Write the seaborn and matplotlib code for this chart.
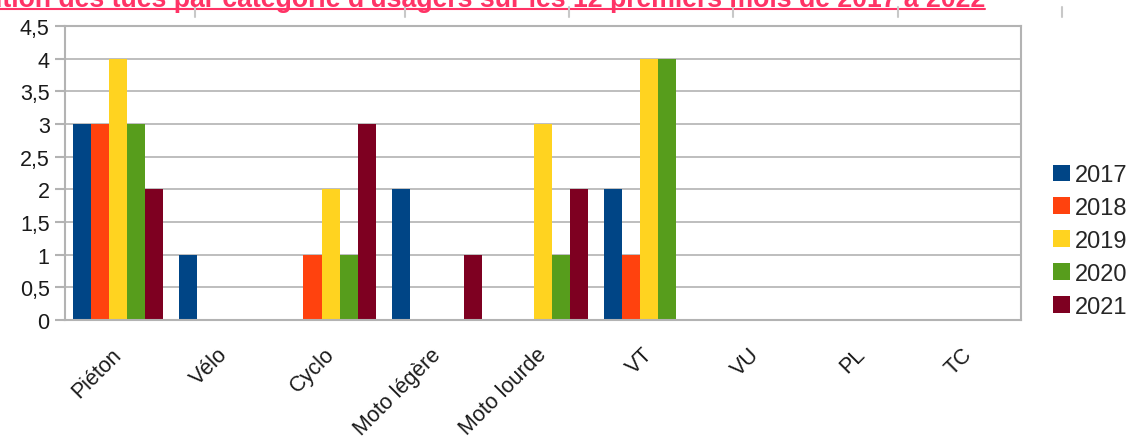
import matplotlib
matplotlib.use('Agg')
import pandas as pd
import matplotlib.pyplot as plt
import seaborn as sns
from matplotlib.lines import Line2D
from matplotlib.ticker import FixedLocator
from matplotlib.transforms import ScaledTranslation

# Donnees
categories = ['Piéton', 'Vélo', 'Cyclo', 'Moto légère', 'Moto lourde', 'VT', 'VU', 'PL', 'TC']
annees = ['2017', '2018', '2019', '2020', '2021']
tues_2017 = [3, 1, 0, 2, 0, 2, 0, 0, 0]
tues_2018 = [3, 0, 1, 0, 0, 1, 0, 0, 0]
tues_2019 = [4, 0, 2, 0, 3, 4, 0, 0, 0]
tues_2020 = [3, 0, 1, 0, 1, 4, 0, 0, 0]
tues_2021 = [2, 0, 3, 1, 2, 0, 0, 0, 0]
couleurs = ['#004586', '#ff420e', '#ffd320', '#579d1c', '#7e0021']
yticks = [0, 0.5, 1, 1.5, 2, 2.5, 3, 3.5, 4, 4.5]
ytick_labels = ['0', '0,5', '1', '1,5', '2', '2,5', '3', '3,5', '4', '4,5']
titre = "Évolution des tués par catégorie d'usagers sur les 12 premiers mois de 2017 à 2022"

series = [tues_2017, tues_2018, tues_2019, tues_2020, tues_2021]
lignes = []
for annee, valeurs in zip(annees, series):
    for cat, v in zip(categories, valeurs):
        lignes.append({'categorie': cat, 'annee': annee, 'tues': v})
df = pd.DataFrame(lignes)

sns.set_style('white')
plt.rcParams['font.family'] = ['Liberation Sans', 'DejaVu Sans']

fig = plt.figure(figsize=(11.31, 4.39), dpi=100)
ax = fig.add_axes([65 / 1131, 1 - 321 / 439, (1021 - 65) / 1131, (321 - 27) / 439])

sns.barplot(data=df, x='categorie', y='tues', hue='annee', order=categories,
            hue_order=annees, palette=couleurs, saturation=1, width=0.85,
            linewidth=0, ax=ax)

gris = '#b3b3b3'
ax.set_xlim(-0.5, len(categories) - 0.5)
ax.set_ylim(0, 4.5)
ax.yaxis.set_major_locator(FixedLocator(yticks))
ax.set_yticklabels(ytick_labels, fontsize=15.5, color='#1a1a1a')
ax.set_xticks(range(len(categories)))
ax.set_xticklabels(categories, fontsize=15.5, rotation=45, ha='right', va='top',
                   color='#1a1a1a')
ax.set_xticks([i - 0.5 for i in range(len(categories) + 1)], minor=True)
ax.tick_params(axis='x', which='major', length=0, pad=17)
ax.tick_params(axis='x', which='minor', length=7, width=1.5, color=gris, direction='out')
ax.tick_params(axis='y', length=7, width=1.5, color=gris, direction='out', pad=4, left=True)
# petit decalage vers la droite comme dans l'original (apres tick_params)
decalage = ScaledTranslation(8 / 100, 0, fig.dpi_scale_trans)
for lbl in ax.get_xticklabels():
    lbl.set_transform(lbl.get_transform() + decalage)
ax.set_axisbelow(True)
ax.yaxis.grid(True, color=gris, linewidth=1.2)
ax.xaxis.grid(False)
for s in ax.spines.values():
    s.set_visible(True)
    s.set_color(gris)
    s.set_linewidth(1.5)
ax.set_xlabel('')
ax.set_ylabel('')

# Legende a droite
handles, labels = ax.get_legend_handles_labels()
ax.legend(handles, labels, loc='center left', bbox_to_anchor=(1053 / 1131, 1 - 242 / 439),
          bbox_transform=fig.transFigure, frameon=False, fontsize=17,
          handlelength=0.72, handleheight=0.72, handletextpad=0.2,
          labelspacing=0.46, borderpad=0, borderaxespad=0)

# Titre coupe en haut, souligne
fig.text(985 / 1131, 1 - 7 / 439, titre, ha='right', va='baseline', fontsize=19.2,
         fontweight='bold', color='#ff3366')
fig.add_artist(Line2D([0, 985 / 1131], [1 - 10 / 439, 1 - 10 / 439],
                      transform=fig.transFigure, color='#ff3366', linewidth=1.5))
for xp in [195, 405, 569, 733, 898, 1062]:
    fig.add_artist(Line2D([xp / 1131, xp / 1131], [1 - 8 / 439, 1 - 18 / 439],
                          transform=fig.transFigure, color='#c8c8c8', linewidth=1.5))

fig.savefig('out.png', dpi=100)
